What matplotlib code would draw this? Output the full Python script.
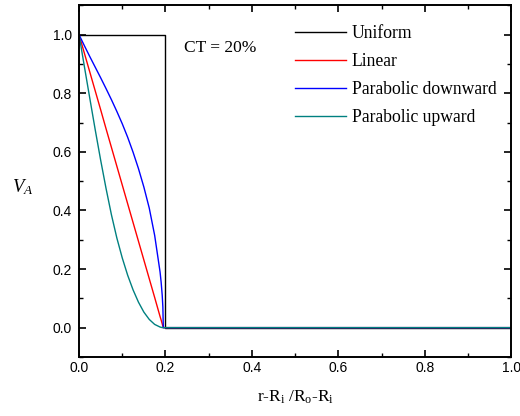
import matplotlib
matplotlib.use("Agg")
import matplotlib.pyplot as plt
from matplotlib.ticker import MultipleLocator, FormatStrFormatter

serif = "Liberation Serif"
sans = "Liberation Sans"
plt.rcParams["mathtext.fontset"] = "custom"
plt.rcParams["mathtext.rm"] = serif
plt.rcParams["mathtext.it"] = serif + ":italic"
plt.rcParams["mathtext.default"] = "rm"

# data
x_profile = [0.0, 0.0125, 0.025, 0.0375, 0.05, 0.0625, 0.075, 0.0875, 0.1,
             0.1125, 0.125, 0.1375, 0.15, 0.1625, 0.175, 0.1875, 0.19,
             0.1925, 0.194, 0.195, 1.0]
linear = [1.0, 0.936, 0.872, 0.808, 0.744, 0.679, 0.615, 0.551, 0.487,
          0.423, 0.359, 0.295, 0.231, 0.167, 0.103, 0.038, 0.026,
          0.013, 0.005, 0.0, 0.0]
parab_down = [1.0, 0.962, 0.925, 0.889, 0.853, 0.816, 0.778, 0.738, 0.696,
              0.650, 0.599, 0.543, 0.480, 0.408, 0.315, 0.190, 0.155,
              0.110, 0.070, 0.0, 0.0]
parab_up = [1.0, 0.890, 0.782, 0.675, 0.572, 0.475, 0.385, 0.306, 0.238,
            0.179, 0.129, 0.087, 0.053, 0.028, 0.011, 0.002, 0.001,
            0.0, 0.0, 0.0, 0.0]
x_uniform = [0.0, 0.2, 0.2, 1.0]
uniform = [1.0, 1.0, 0.0, 0.0]

series_labels = ["Uniform", "Linear", "Parabolic downward", "Parabolic upward"]
annotation = "CT = 20%"
x_ticks = [0.0, 0.2, 0.4, 0.6, 0.8, 1.0]
y_ticks = [0.0, 0.2, 0.4, 0.6, 0.8, 1.0]

fig = plt.figure(figsize=(5.2, 4.16), dpi=100)
ax = fig.add_axes([0.152, 0.142, 0.831, 0.845])

ax.plot(x_uniform, uniform, color="black", lw=1.0, label=series_labels[0])
ax.plot(x_profile, linear, color="#ff0000", lw=1.0, label=series_labels[1])
ax.plot(x_profile, parab_down, color="#0000ff", lw=1.0, label=series_labels[2])
ax.plot(x_profile, parab_up, color="#008080", lw=1.0, label=series_labels[3])

ax.set_xlim(0, 1.0)
ax.set_ylim(-0.1, 1.1)
ax.set_xticks(x_ticks)
ax.set_yticks(y_ticks)
ax.xaxis.set_minor_locator(MultipleLocator(0.1))
ax.yaxis.set_minor_locator(MultipleLocator(0.1))
ax.xaxis.set_major_formatter(FormatStrFormatter("%.1f"))
ax.yaxis.set_major_formatter(FormatStrFormatter("%.1f"))
ax.tick_params(which="both", direction="in", top=True, right=True,
               labeltop=False, labelright=False)
ax.tick_params(which="major", length=5, width=1.2, labelsize=10)
ax.tick_params(axis="x", which="major", pad=3)
ax.tick_params(axis="y", which="major", pad=5)
ax.tick_params(which="minor", length=3, width=1.0)
for lab in ax.get_xticklabels() + ax.get_yticklabels():
    lab.set_fontfamily(sans)
for sp in ax.spines.values():
    sp.set_linewidth(1.4)

ax.set_xlabel(r"r-R$_\mathregular{i}$ /R$_\mathregular{o}$-R$_\mathregular{i}$",
              fontsize=12.5, fontfamily=serif, labelpad=10)
fig.text(0.043, 0.55, r"$\mathit{V_A}$", fontsize=13.5, fontfamily=serif,
         ha="center", va="center")

ax.text(0.243, 0.955, annotation, fontsize=12.5, fontfamily=serif,
        va="center", ha="left")

leg = ax.legend(loc="upper left", bbox_to_anchor=(0.484, 0.964), frameon=False,
                prop={"family": serif, "size": 12.7}, handlelength=2.9,
                handletextpad=0.3, labelspacing=0.62, borderaxespad=0)

fig.savefig("out.png", dpi=100)
